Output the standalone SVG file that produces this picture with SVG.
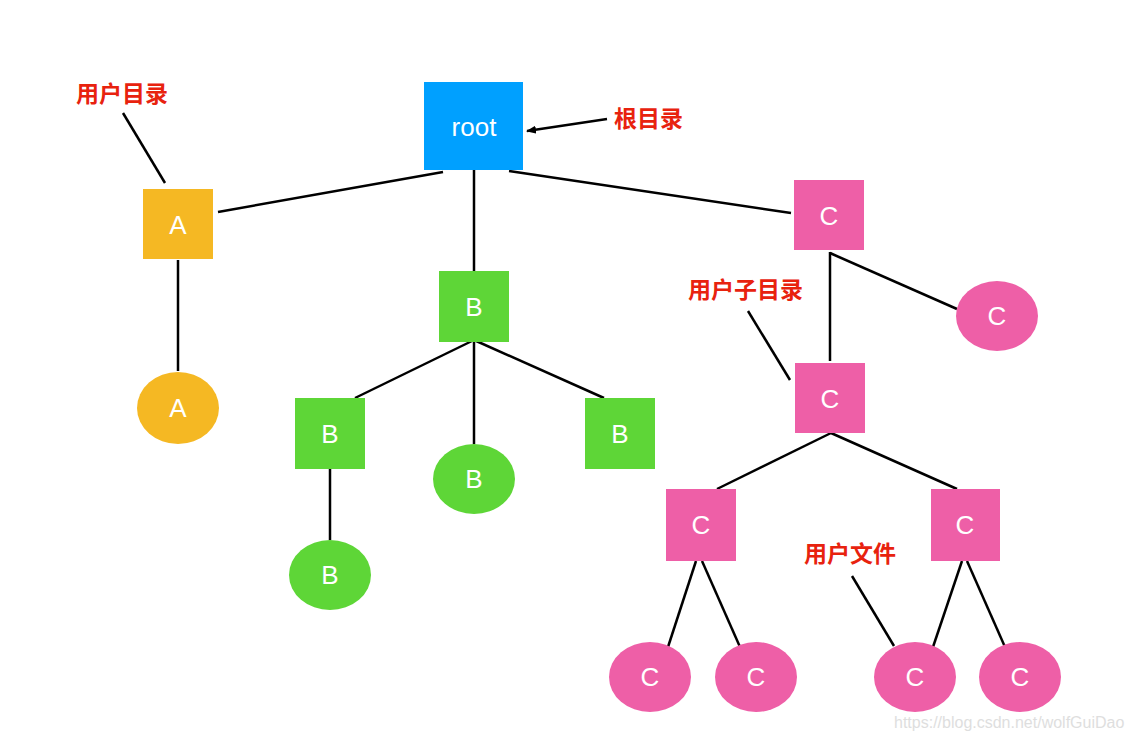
<svg xmlns="http://www.w3.org/2000/svg" width="1132" height="740" viewBox="0 0 1132 740">
<defs>
<style>
.n{font-family:"Liberation Sans",Arial,sans-serif;font-size:26px;fill:#fff;text-anchor:middle;dominant-baseline:central}
.lbl{font-family:"Noto Sans CJK SC","Noto Sans",sans-serif;font-size:23px;font-weight:bold;fill:#e8220e;dominant-baseline:central}
.c line{stroke:#000;stroke-width:2.5;stroke-linecap:butt}
.blue{fill:#00a0ff}.ora{fill:#f5b823}.grn{fill:#5ed637}.pnk{fill:#ee5fa7}
</style>
<marker id="ah" markerWidth="10" markerHeight="8" refX="9" refY="4" orient="auto" markerUnits="userSpaceOnUse">
<path d="M0,0 L10,4 L0,8 Z" fill="#000"/>
</marker>
</defs>
<rect width="1132" height="740" fill="#fff"/>
<g class="c" id="connectors">
<line x1="443" y1="172" x2="218" y2="212"/>
<line x1="474" y1="170" x2="474" y2="271"/>
<line x1="509" y1="171" x2="791" y2="213"/>
<line x1="178" y1="260" x2="178" y2="371"/>
<line x1="474" y1="340" x2="355" y2="398"/>
<line x1="474" y1="340" x2="474" y2="444"/>
<line x1="474" y1="340" x2="604" y2="398"/>
<line x1="330" y1="469" x2="330" y2="540"/>
<line x1="830" y1="252" x2="830" y2="361"/>
<line x1="830" y1="253" x2="957" y2="309"/>
<line x1="831" y1="433" x2="717" y2="489"/>
<line x1="831" y1="433" x2="957" y2="489"/>
<line x1="696" y1="561" x2="668" y2="647"/>
<line x1="702" y1="561" x2="740" y2="647"/>
<line x1="962" y1="561" x2="933" y2="647"/>
<line x1="967" y1="561" x2="1005" y2="647"/>
<line x1="123" y1="113" x2="165" y2="183"/>
<line x1="748" y1="311" x2="790" y2="380"/>
<line x1="852" y1="576" x2="894" y2="646"/>
<line x1="607" y1="119" x2="527" y2="131" marker-end="url(#ah)"/>
</g>
<g id="root"><rect class="blue" x="424" y="82" width="99" height="88"/><text class="n" x="474" y="127">root</text></g>
<g id="A1"><rect class="ora" x="143" y="189" width="70" height="70"/><text class="n" x="178" y="225">A</text></g>
<g id="A2"><ellipse class="ora" cx="178" cy="408" rx="41" ry="36"/><text class="n" x="178" y="408">A</text></g>
<g id="B1"><rect class="grn" x="439" y="271" width="70" height="71"/><text class="n" x="474" y="307">B</text></g>
<g id="B2"><rect class="grn" x="295" y="398" width="70" height="71"/><text class="n" x="330" y="434">B</text></g>
<g id="B3"><ellipse class="grn" cx="474" cy="479" rx="41" ry="35"/><text class="n" x="474" y="479">B</text></g>
<g id="B4"><rect class="grn" x="585" y="398" width="70" height="71"/><text class="n" x="620" y="434">B</text></g>
<g id="B5"><ellipse class="grn" cx="330" cy="575" rx="41" ry="35"/><text class="n" x="330" y="575">B</text></g>
<g id="C1"><rect class="pnk" x="794" y="180" width="70" height="70"/><text class="n" x="829" y="216">C</text></g>
<g id="C2"><ellipse class="pnk" cx="997" cy="316" rx="41" ry="35"/><text class="n" x="997" y="316">C</text></g>
<g id="C3"><rect class="pnk" x="795" y="363" width="70" height="70"/><text class="n" x="830" y="399">C</text></g>
<g id="C4"><rect class="pnk" x="666" y="489" width="70" height="72"/><text class="n" x="701" y="525">C</text></g>
<g id="C5"><rect class="pnk" x="931" y="489" width="69" height="72"/><text class="n" x="965" y="525">C</text></g>
<g id="C6"><ellipse class="pnk" cx="650" cy="677" rx="41" ry="35"/><text class="n" x="650" y="677">C</text></g>
<g id="C7"><ellipse class="pnk" cx="756" cy="677" rx="41" ry="35"/><text class="n" x="756" y="677">C</text></g>
<g id="C8"><ellipse class="pnk" cx="915" cy="677" rx="41" ry="35"/><text class="n" x="915" y="677">C</text></g>
<g id="C9"><ellipse class="pnk" cx="1020" cy="677" rx="41" ry="35"/><text class="n" x="1020" y="677">C</text></g>
<g id="labels">
<text class="lbl" x="76" y="92">用户目录</text>
<text class="lbl" x="614" y="117">根目录</text>
<text class="lbl" x="688" y="288">用户子目录</text>
<text class="lbl" x="804" y="552">用户文件</text>
<text x="894" y="722" font-family="'Liberation Sans',Arial,sans-serif" font-size="16" fill="#dedede" dominant-baseline="central">https://blog.csdn.net/wolfGuiDao</text>
</g>
</svg>
